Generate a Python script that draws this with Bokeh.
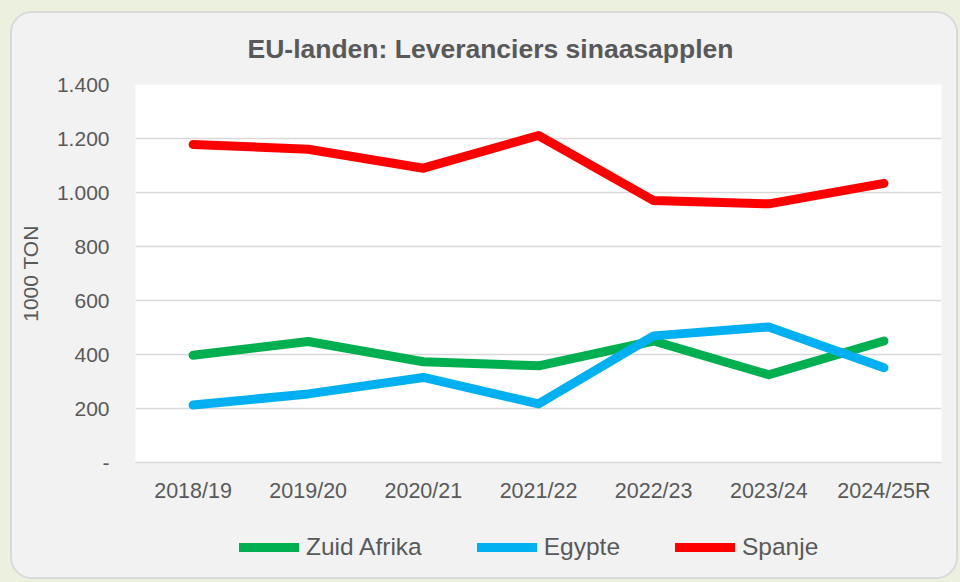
from bokeh.plotting import figure
from bokeh.layouts import column
from bokeh.models import Range1d, FactorRange, FixedTicker, Legend, LegendItem
from bokeh.embed import file_html
from bokeh.resources import INLINE

# ---- data ----
seasons = ["2018/19", "2019/20", "2020/21", "2021/22", "2022/23", "2023/24", "2024/25R"]
zuid_afrika = [397, 448, 373, 358, 450, 325, 450]
egypte = [213, 254, 315, 217, 469, 502, 351]
spanje = [1178, 1160, 1090, 1211, 970, 958, 1034]
y_ticks = [0, 200, 400, 600, 800, 1000, 1200, 1400]
y_tick_labels = ["-", "200", "400", "600", "800", "1.000", "1.200", "1.400"]
series_names = ["Zuid Afrika", "Egypte", "Spanje"]
series_colors = ["#00B050", "#00B0F0", "#FF0000"]
series_values = [zuid_afrika, egypte, spanje]

FONT = "Liberation Sans"
TXT = "#595959"
PANEL = "#F2F2F2"

p = figure(
    x_range=FactorRange(*seasons, range_padding=0),
    y_range=Range1d(0, 1400),
    width=944, height=507,
    output_backend="svg", toolbar_location=None,
    min_border_left=123, min_border_right=15,
    min_border_top=71, min_border_bottom=58,
    background_fill_color="white",
    border_fill_color=PANEL,
)
p.outline_line_color = None

p.title.text = "EU-landen: Leveranciers sinaasapplen"
p.title.text_font = FONT
p.title.text_font_size = "26.5px"
p.title.text_font_style = "bold"
p.title.text_color = TXT
p.title.align = "left"
p.title.offset = 112
p.title.vertical_align = "top"
p.title.standoff = 38

# y axis
yax = p.yaxis[0]
yax.ticker = FixedTicker(ticks=y_ticks)
yax.major_label_overrides = {t: l for t, l in zip(y_ticks, y_tick_labels)}
yax.axis_line_color = None
yax.major_tick_line_color = None
yax.minor_tick_line_color = None
yax.major_tick_out = 0
yax.major_tick_in = 0
yax.major_label_standoff = 26
yax.major_label_text_font = FONT
yax.major_label_text_font_size = "21px"
yax.major_label_text_color = TXT
yax.axis_label = "1000 TON"
yax.axis_label_text_font = FONT
yax.axis_label_text_font_size = "21px"
yax.axis_label_text_font_style = "normal"
yax.axis_label_text_color = TXT
yax.axis_label_standoff = 12

# x axis
xax = p.xaxis[0]
xax.axis_line_color = "#D9D9D9"
xax.axis_line_width = 1.5
xax.major_tick_line_color = None
xax.minor_tick_line_color = None
xax.major_tick_out = 0
xax.major_tick_in = 0
xax.major_label_standoff = 16
xax.major_label_text_font = FONT
xax.major_label_text_font_size = "21.5px"
xax.major_label_text_color = TXT

p.xgrid.grid_line_color = None
p.ygrid.grid_line_color = "#D9D9D9"
p.ygrid.grid_line_width = 1.5
p.ygrid.ticker = FixedTicker(ticks=y_ticks)

for vals, col in zip(series_values, series_colors):
    p.line(seasons, vals, line_color=col, line_width=9,
           line_cap="round", line_join="round")

# ---- legend strip (a second figure whose frame holds only the legend) ----
p2 = figure(
    x_range=FactorRange(*seasons, range_padding=0),
    y_range=Range1d(5000, 6000),
    width=944, height=57,
    output_backend="svg", toolbar_location=None,
    x_axis_location=None, y_axis_location=None,
    min_border=0, min_border_left=0, min_border_right=0,
    min_border_top=0, min_border_bottom=0,
    background_fill_color=PANEL, border_fill_color=PANEL,
)
p2.outline_line_color = None
p2.grid.visible = False

items = []
for name, vals, col in zip(series_names, series_values, series_colors):
    r = p2.line(seasons, vals, line_color=col, line_width=9,
                line_cap="round", line_join="round")
    items.append(LegendItem(label=name, renderers=[r]))

legend = Legend(items=items, orientation="horizontal", location=(104, 16))
legend.background_fill_alpha = 0
legend.border_line_color = None
legend.padding = 0
legend.margin = 0
legend.spacing = 55
legend.glyph_width = 60
legend.glyph_height = 20
legend.label_standoff = 7
legend.label_text_font = FONT
legend.label_text_font_size = "24.5px"
legend.label_text_color = TXT
p2.add_layout(legend, "center")

layout = column(
    p, p2, spacing=0,
    styles={"margin-left": "10px", "margin-top": "11px",
            "border": "2px solid #D9D9D9", "border-radius": "22px",
            "overflow": "hidden", "background-color": PANEL},
)

html = file_html(layout, INLINE)
html = html.replace("</head>", "<style>html,body{background-color:#EBF1DE;margin:0;padding:0;}</style></head>", 1)
open("out.html", "w").write(html)
